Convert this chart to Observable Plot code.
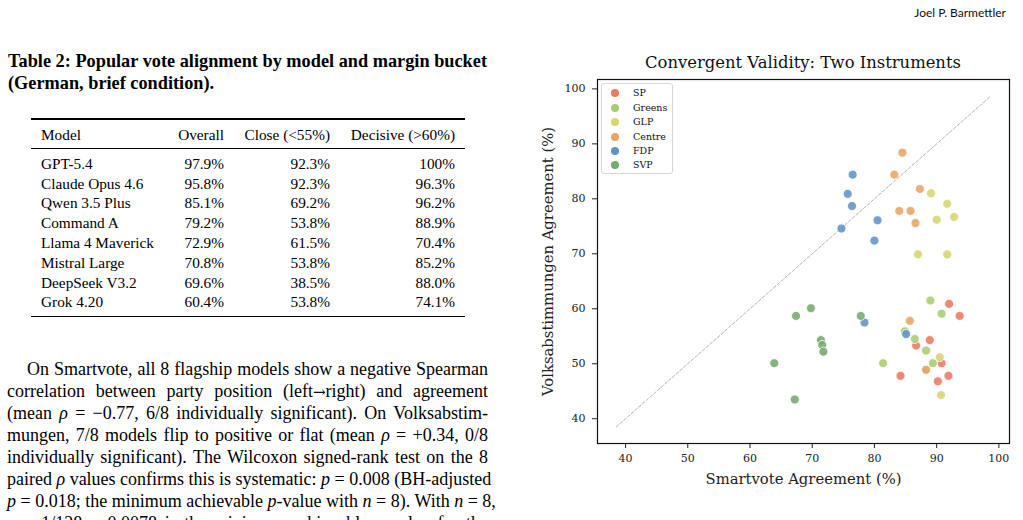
<!DOCTYPE html>
<html><head><meta charset="utf-8">
<script src="https://cdn.jsdelivr.net/npm/d3@7"></script>
<script src="https://cdn.jsdelivr.net/npm/@observablehq/plot@0.6"></script>
<style>
html,body{margin:0;padding:0;background:#fff;}
body{width:1023px;height:520px;overflow:hidden;position:relative;font-family:"Liberation Serif",serif;color:#000;}
.abs{position:absolute;white-space:nowrap;}
.jl{position:absolute;white-space:nowrap;text-align:justify;text-align-last:justify;}
#header{left:870px;width:136px;top:4px;text-align:right;font-family:Lato,sans-serif;font-size:12px;line-height:17px;color:#111;}
.cap{font-weight:bold;font-size:18.3px;line-height:22px;}
.rule{position:absolute;left:31px;width:434px;background:#000;}
.trow{position:absolute;left:31px;width:434px;height:20px;line-height:20px;font-size:15.3px;}
.trow span{position:absolute;top:0;}
.para{font-size:18px;line-height:22px;height:22px;}
.arrow{font-family:"DejaVu Serif",serif;font-size:15px;}
#chart{position:absolute;left:530px;top:72px;}
#ctitle{position:absolute;left:597px;width:412px;top:52px;text-align:center;font-family:"DejaVu Serif",serif;font-size:16.4px;line-height:22px;color:#111;}
#legend{position:absolute;left:601px;top:83px;width:70px;height:89px;border:1px solid #d6d6d6;border-radius:3px;background:rgba(255,255,255,0.85);font-family:"DejaVu Serif",serif;font-size:9.5px;color:#111;}
#legend .it{position:absolute;left:0;height:14px;line-height:14px;}
#legend .mk{position:absolute;left:9px;top:3px;width:8px;height:8px;border-radius:50%;}
#legend .lb{position:absolute;left:31px;top:0;}
#chart svg [aria-label="x-axis label"], #chart svg [aria-label="y-axis label"]{font-size:14.8px;}
</style></head>
<body>
<div id="header" class="abs">Joel P. Barmettler</div>

<div class="jl cap" style="left:8px;top:50px;width:479px;">Table 2: Popular vote alignment by model and margin bucket</div>
<div class="abs cap" style="left:8px;top:72px;">(German, brief condition).</div>

<div id="table"></div>

<div class="jl para" style="left:27px;top:358px;width:461px;">On Smartvote, all 8 flagship models show a negative Spearman</div>
<div class="jl para" style="left:7px;top:380px;width:481px;">correlation between party position (left<span class="arrow">→</span>right) and agreement</div>
<div class="jl para" style="left:7px;top:402px;width:481px;">(mean <i>ρ</i> = −0.77, 6/8 individually significant). On Volksabstim-</div>
<div class="jl para" style="left:7px;top:424px;width:481px;">mungen, 7/8 models flip to positive or flat (mean <i>ρ</i> = +0.34, 0/8</div>
<div class="jl para" style="left:7px;top:446px;width:481px;">individually significant). The Wilcoxon signed-rank test on the 8</div>
<div class="jl para" style="left:7px;top:468px;width:481px;">paired <i>ρ</i> values confirms this is systematic: <i>p</i> = 0.008 (BH-adjusted</div>
<div class="jl para" style="left:7px;top:490px;width:481px;"><i>p</i> = 0.018; the minimum achievable <i>p</i>-value with <i>n</i> = 8). With <i>n</i> = 8,</div>
<div class="jl para" style="left:7px;top:512px;width:481px;"><i>p</i> = 1/128 = 0.0078 is the minimum achievable <i>p</i>-value for the</div>

<div id="ctitle">Convergent Validity: Two Instruments</div>
<div id="chart"></div>
<div id="legend"></div>

<script>
// ---- Table data ----
const tableHeaders = ["Model", "Overall", "Close (<55%)", "Decisive (>60%)"];
const models = ["GPT-5.4", "Claude Opus 4.6", "Qwen 3.5 Plus", "Command A", "Llama 4 Maverick", "Mistral Large", "DeepSeek V3.2", "Grok 4.20"];
const overall = ["97.9%", "95.8%", "85.1%", "79.2%", "72.9%", "70.8%", "69.6%", "60.4%"];
const closeBucket = ["92.3%", "92.3%", "69.2%", "53.8%", "61.5%", "53.8%", "38.5%", "53.8%"];
const decisive = ["100%", "96.3%", "96.2%", "88.9%", "70.4%", "85.2%", "88.0%", "74.1%"];

// ---- Chart data ----
const parties = ["SP", "Greens", "GLP", "Centre", "FDP", "SVP"];
const spSmartvote     = [92.0, 93.7, 88.9, 86.7, 90.8, 84.2, 91.9, 90.2];
const spVolks         = [60.9, 58.7, 54.3, 53.3, 50.1, 47.8, 47.8, 46.8];
const greensSmartvote = [89.0, 90.8, 84.9, 86.5, 88.3, 89.4, 81.4, 88.3];
const greensVolks     = [61.5, 59.1, 55.9, 54.5, 52.4, 50.1, 50.1, 48.9];
const glpSmartvote    = [89.1, 91.7, 90.0, 92.8, 87.0, 91.7, 90.5, 90.7];
const glpVolks        = [81.0, 79.1, 76.2, 76.7, 69.9, 69.9, 51.2, 44.3];
const centreSmartvote = [84.5, 83.2, 87.3, 84.0, 85.8, 86.6, 85.7, 88.3];
const centreVolks     = [88.4, 84.4, 81.8, 77.8, 77.8, 75.6, 57.8, 48.9];
const fdpSmartvote    = [76.5, 75.7, 76.4, 80.5, 74.7, 80.0, 78.4, 85.1];
const fdpVolks        = [84.4, 80.9, 78.7, 76.1, 74.6, 72.4, 57.5, 55.4];
const svpSmartvote    = [67.4, 69.8, 77.8, 71.4, 71.6, 71.8, 63.9, 67.2];
const svpVolks        = [58.7, 60.1, 58.7, 54.3, 53.4, 52.2, 50.1, 43.5];
const xTicks = [40, 50, 60, 70, 80, 90, 100];
const yTicks = [40, 50, 60, 70, 80, 90, 100];

// ---- Styles ----
const partyColors = ["#ef7763", "#a8cd72", "#d7d56e", "#e8a565", "#6193c4", "#75a96d"];

// ---- Build table ----
(function(){
  const t = document.getElementById("table");
  function rule(top, h){ const d=document.createElement("div"); d.className="rule"; d.style.top=top+"px"; d.style.height=h+"px"; t.appendChild(d); }
  rule(118.4, 1.3); rule(147.8, 0.8); rule(316, 1.3);
  const colRight = [null, 224, 330, 455];
  function row(top, cells){
    const r=document.createElement("div"); r.className="trow"; r.style.top=top+"px";
    cells.forEach((c,i)=>{ const s=document.createElement("span"); s.textContent=c;
      if(i===0){ s.style.left=(41-31)+"px"; } else { s.style.right=(465-colRight[i])+"px"; }
      r.appendChild(s); });
    t.appendChild(r);
  }
  row(124.5, tableHeaders);
  models.forEach((m,i)=>row(153.8 + i*19.8, [m, overall[i], closeBucket[i], decisive[i]]));
})();

// ---- Build chart ----
const xs = [spSmartvote, greensSmartvote, glpSmartvote, centreSmartvote, fdpSmartvote, svpSmartvote];
const ys = [spVolks, greensVolks, glpVolks, centreVolks, fdpVolks, svpVolks];
const points = [];
parties.forEach((p, k) => xs[k].forEach((v, i) => points.push({party: p, sv: v, vk: ys[k][i]})));
const allVals = points.flatMap(d => [d.sv, d.vk]);
const lo = d3.min(allVals) - 5, hi = d3.max(allVals) + 5;
const pad = 0.05 * (hi - lo);
const domain = [lo - pad, hi + pad];
const diag = [{v: lo}, {v: hi}];

const chart = Plot.plot({
  width: 490, height: 416,
  marginLeft: 67, marginRight: 11, marginTop: 7, marginBottom: 45,
  style: {fontFamily: "DejaVu Serif, serif", fontSize: "11px", color: "#222", background: "transparent"},
  x: {domain, ticks: xTicks, tickSize: 5, tickPadding: 6, label: "Smartvote Agreement (%)", labelAnchor: "center", labelOffset: 40, labelArrow: "none"},
  y: {domain, ticks: yTicks, tickSize: 5, tickPadding: 7, label: "Volksabstimmungen Agreement (%)", labelAnchor: "center", labelOffset: 55, labelArrow: "none"},
  color: {domain: parties, range: partyColors},
  marks: [
    Plot.line(diag, {x: "v", y: "v", stroke: "#aaa", strokeWidth: 0.9, strokeDasharray: "3,2"}),
    Plot.dot(points, {x: "sv", y: "vk", fill: "party", r: 4.5, stroke: "white", strokeWidth: 0.8, fillOpacity: 0.88}),
    Plot.frame({stroke: "#111", strokeWidth: 1.2})
  ]
});
document.getElementById("chart").appendChild(chart);

// ---- Legend ----
(function(){
  const L = document.getElementById("legend");
  parties.forEach((p,i)=>{
    const it=document.createElement("div"); it.className="it"; it.style.top=(2.3 + i*14.4)+"px"; it.style.width="70px";
    const mk=document.createElement("span"); mk.className="mk"; mk.style.background=partyColors[i];
    const lb=document.createElement("span"); lb.className="lb"; lb.textContent=p;
    it.appendChild(mk); it.appendChild(lb); L.appendChild(it);
  });
})();
</script>
</body></html>
